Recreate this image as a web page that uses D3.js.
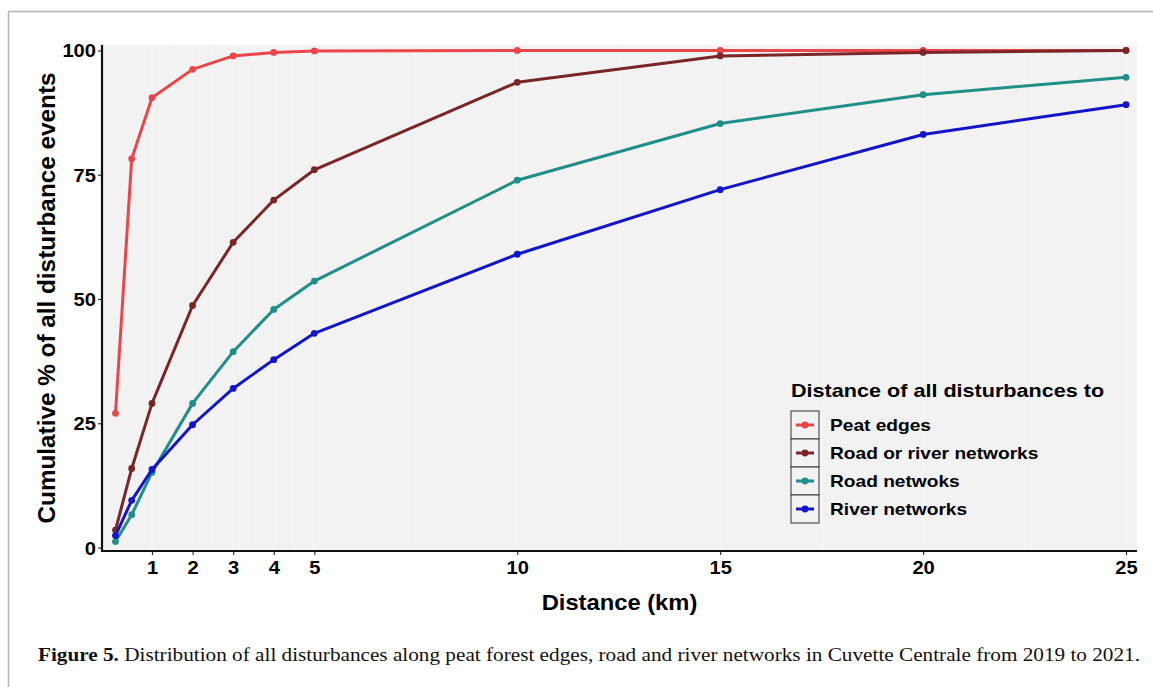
<!DOCTYPE html>
<html>
<head>
<meta charset="utf-8">
<script src="https://cdn.jsdelivr.net/npm/d3@7/dist/d3.min.js"></script>
<style>
  html, body { margin: 0; padding: 0; background: #ffffff; }
  svg { display: block; }
</style>
</head>
<body>
<svg id="chart" width="1153" height="687"></svg>
<script>
// ---------------- data ----------------
const distances = [0.1, 0.5, 1, 2, 3, 4, 5, 10, 15, 20, 25];
const peatEdges = [27, 78.2, 90.5, 96.2, 98.9, 99.6, 99.9, 100, 100, 100, 100];
const roadOrRiver = [3.5, 15.9, 29, 48.7, 61.4, 69.9, 76, 93.6, 98.9, 99.6, 100];
const roadNetworks = [1.2, 6.6, 15.1, 29, 39.4, 47.9, 53.6, 73.9, 85.3, 91.1, 94.6];
const riverNetworks = [2.4, 9.5, 15.7, 24.7, 32, 37.8, 43.1, 59, 72, 83.1, 89.1];
const seriesNames = ["Peat edges", "Road or river networks", "Road netwoks", "River networks"];
const xTicks = [1, 2, 3, 4, 5, 10, 15, 20, 25];
const xMinorTicks = [1.5, 2.5, 3.5, 4.5, 7.5, 12.5, 17.5, 22.5];
const yTicks = [0, 25, 50, 75, 100];
const legendTitle = "Distance of all disturbances to";
const xTitle = "Distance (km)";
const yTitle = "Cumulative % of all disturbance events";
const captionBold = "Figure 5.";
const captionText = " Distribution of all disturbances along peat forest edges, road and river networks in Cuvette Centrale from 2019 to 2021.";

const colors = ["#e8464b", "#7a2527", "#1f8f88", "#1414c8"];
const seriesValues = [peatEdges, roadOrRiver, roadNetworks, riverNetworks];

// ---------------- layout ----------------
const svg = d3.select("#chart");
const panel = { left: 102, right: 1137, top: 45, bottom: 551 };
const SX = 1.15; // horizontal stretch of horizontal text
const sans = "'Liberation Sans', Arial, Helvetica, sans-serif";

const x = d3.scaleLinear().domain([-0.232, 25.27]).range([panel.left, panel.right]);
const y = d3.scaleLinear().domain([-0.7, 101.1]).range([panel.bottom, panel.top]);

// outer frame (top and left edges)
svg.append("line").attr("x1", 8).attr("x2", 1153).attr("y1", 11.5).attr("y2", 11.5)
  .attr("stroke", "#b3b3b3").attr("stroke-width", 1.5);
svg.append("line").attr("x1", 8.5).attr("x2", 8.5).attr("y1", 11).attr("y2", 687)
  .attr("stroke", "#b3b3b3").attr("stroke-width", 1.5);

// panel background
svg.append("rect").attr("x", panel.left).attr("y", panel.top)
  .attr("width", panel.right - panel.left).attr("height", panel.bottom - panel.top)
  .attr("fill", "#f2f2f2");

// faint grid
svg.append("g").selectAll("line").data(xTicks.concat(xMinorTicks)).join("line")
  .attr("x1", d => x(d)).attr("x2", d => x(d))
  .attr("y1", panel.top).attr("y2", panel.bottom)
  .attr("stroke", "#f5f5f5").attr("stroke-width", 1.2);

// helper: horizontally stretched text
function stretchedText(parent, tx, ty, str, opts) {
  const g = parent.append("g").attr("transform", `translate(${tx},${ty}) scale(${opts.sx || SX},1)`);
  const t = g.append("text")
    .attr("x", 0).attr("y", 0)
    .attr("font-family", opts.family || sans)
    .attr("font-weight", opts.weight || "bold")
    .attr("font-size", opts.size)
    .attr("fill", opts.fill || "#000")
    .attr("text-anchor", opts.anchor || "start")
    .text(str);
  return t;
}

// axes
const xAxis = d3.axisBottom(x).tickValues(xTicks).tickSize(4).tickFormat(d3.format("d"));
const gx = svg.append("g").attr("transform", `translate(0,${panel.bottom})`).call(xAxis);
gx.select(".domain").remove();
gx.selectAll(".tick line").attr("stroke", "#333").attr("stroke-width", 1.2);
gx.selectAll(".tick text").remove();
gx.selectAll(".tick").each(function(d) {
  stretchedText(d3.select(this), 0, 22.5, String(d), { size: 17.5, anchor: "middle" });
});

const yAxis = d3.axisLeft(y).tickValues(yTicks).tickSize(4).tickFormat(d3.format("d"));
const gy = svg.append("g").attr("transform", `translate(${panel.left},0)`).call(yAxis);
gy.select(".domain").remove();
gy.selectAll(".tick line").attr("stroke", "#333").attr("stroke-width", 1.2);
gy.selectAll(".tick text").remove();
gy.selectAll(".tick").each(function(d) {
  stretchedText(d3.select(this), -6, 6.5, String(d), { size: 17.5, anchor: "end" });
});

// axis lines
svg.append("line").attr("x1", panel.left).attr("x2", panel.right)
  .attr("y1", panel.bottom).attr("y2", panel.bottom).attr("stroke", "#111").attr("stroke-width", 2.2);
svg.append("line").attr("x1", panel.left).attr("x2", panel.left)
  .attr("y1", panel.top).attr("y2", panel.bottom + 1).attr("stroke", "#111").attr("stroke-width", 2.2);

// titles
stretchedText(svg, (panel.left + panel.right) / 2, 610, xTitle, { size: 22, anchor: "middle", sx: 1.08 });
svg.append("text")
  .attr("transform", `translate(55,${(panel.top + panel.bottom) / 2}) rotate(-90)`)
  .attr("text-anchor", "middle")
  .attr("font-family", sans).attr("font-weight", "bold").attr("font-size", 24.3)
  .text(yTitle);

// lines and points
const line = d3.line().x((d, i) => x(distances[i])).y(d => y(d));
const gLines = svg.append("g");
seriesValues.forEach((vals, si) => {
  gLines.append("path").datum(vals)
    .attr("d", line).attr("fill", "none")
    .attr("stroke", colors[si]).attr("stroke-width", 3)
    .attr("stroke-linejoin", "round");
  gLines.append("g").selectAll("circle").data(vals).join("circle")
    .attr("cx", (d, i) => x(distances[i])).attr("cy", d => y(d))
    .attr("r", 3.4).attr("fill", colors[si]);
});

// legend
const leg = svg.append("g");
stretchedText(leg, 791, 397, legendTitle, { size: 18, sx: 1.2 });
const rowH = 28, keyX = 791, keyW = 28, row0 = 411;
seriesNames.forEach((name, i) => {
  const ry = row0 + i * rowH;
  leg.append("rect").attr("x", keyX).attr("y", ry).attr("width", keyW).attr("height", rowH)
    .attr("fill", "#f2f2f2").attr("stroke", "#333").attr("stroke-width", 1);
  leg.append("line").attr("x1", keyX + 5).attr("x2", keyX + keyW - 5)
    .attr("y1", ry + rowH / 2).attr("y2", ry + rowH / 2)
    .attr("stroke", colors[i]).attr("stroke-width", 3);
  leg.append("circle").attr("cx", keyX + keyW / 2).attr("cy", ry + rowH / 2)
    .attr("r", 3.4).attr("fill", colors[i]);
  stretchedText(leg, 830, ry + rowH / 2 + 6, name, { size: 16.5, sx: 1.16 });
});

// caption
const cap = svg.append("text")
  .attr("x", 38).attr("y", 661)
  .attr("font-family", "'Liberation Serif', 'Times New Roman', serif")
  .attr("font-size", 18).attr("fill", "#111");
cap.append("tspan").attr("font-weight", "bold").text(captionBold);
cap.append("tspan").text(captionText);
cap.attr("textLength", 1102).attr("lengthAdjust", "spacingAndGlyphs");
</script>
</body>
</html>
